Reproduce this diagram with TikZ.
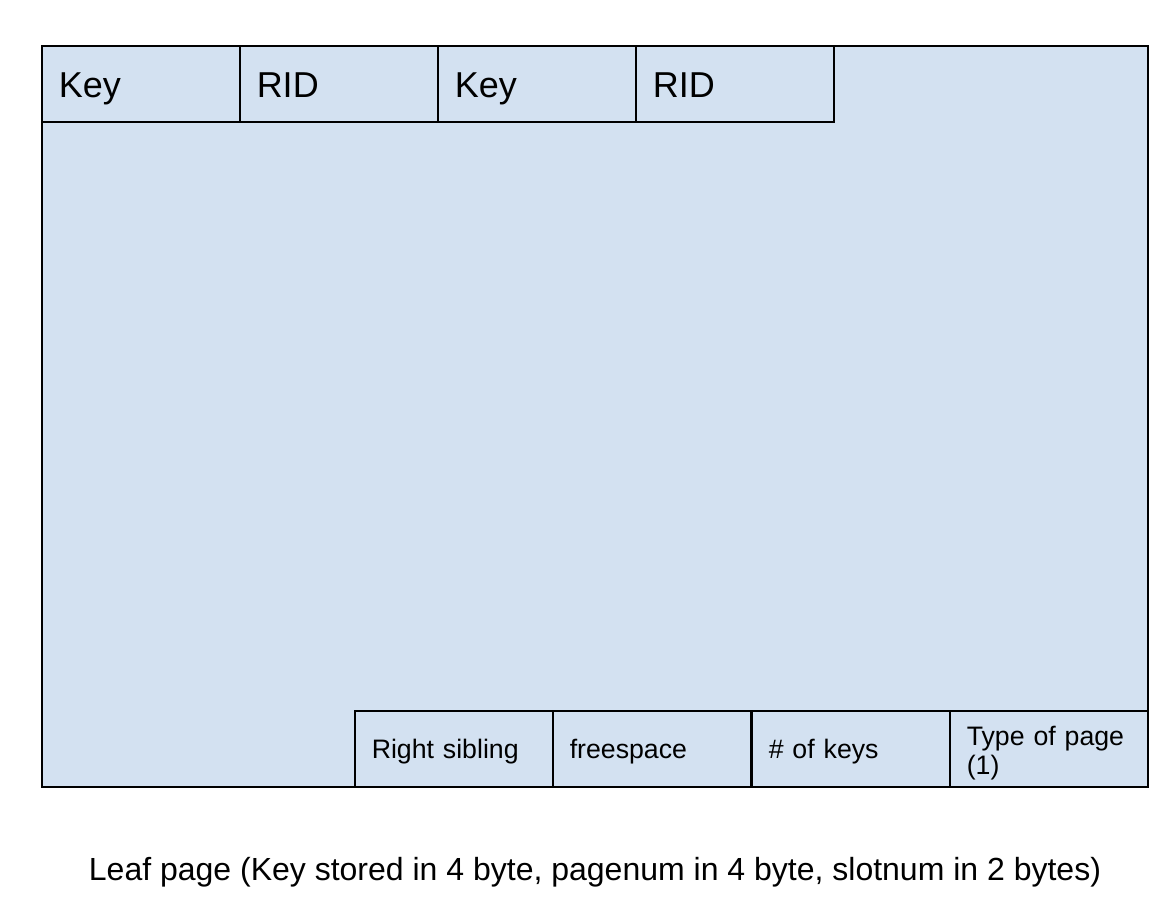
\documentclass[tikz,border=0pt]{standalone}
\usepackage{fontspec}
\setmainfont{Liberation Sans}
\definecolor{pagefill}{RGB}{211,225,241}
\begin{document}
\begin{tikzpicture}[x=1pt,y=-1pt,
  cellbox/.style={draw=black, line width=1.5pt, fill=pagefill, anchor=north west,
    minimum width=198pt, minimum height=76pt, inner xsep=17pt, inner ysep=0pt,
    text width=164pt, align=left},
  bigtext/.style={font=\fontsize{36}{40}\selectfont, text height=34pt, text depth=6pt},
  smalltext/.style={font=\fontsize{26.7}{30}\selectfont, text height=26pt, text depth=6pt},
  captext/.style={font=\fontsize{32}{36}\selectfont}]
\useasboundingbox (0,0) rectangle (1166,918);
\node[draw=black, line width=1.5pt, fill=pagefill, anchor=north west, minimum width=1106pt, minimum height=741pt, inner sep=0pt] (page) at (41,45) {};
\node[cellbox, bigtext] (k1) at (41,45) {Key};
\node[cellbox, bigtext] (r1) at (239,45) {RID};
\node[cellbox, bigtext] (k2) at (437,45) {Key};
\node[cellbox, bigtext] (r2) at (635,45) {RID};
\node[cellbox, smalltext] (rs) at (354,710) {Right sibling};
\node[cellbox, smalltext] (fs) at (552,710) {freespace};
\node[cellbox, smalltext] (nk) at (751,710) {\# of keys};
\node[cellbox, font=\fontsize{26.7}{29}\selectfont, text height=28pt] (tp) at (949,710) {Type of page\\(1)};
\node[captext, anchor=base] (cap) at (595,880) {Leaf page (Key stored in 4 byte, pagenum in 4 byte, slotnum in 2 bytes)};
\end{tikzpicture}
\end{document}
